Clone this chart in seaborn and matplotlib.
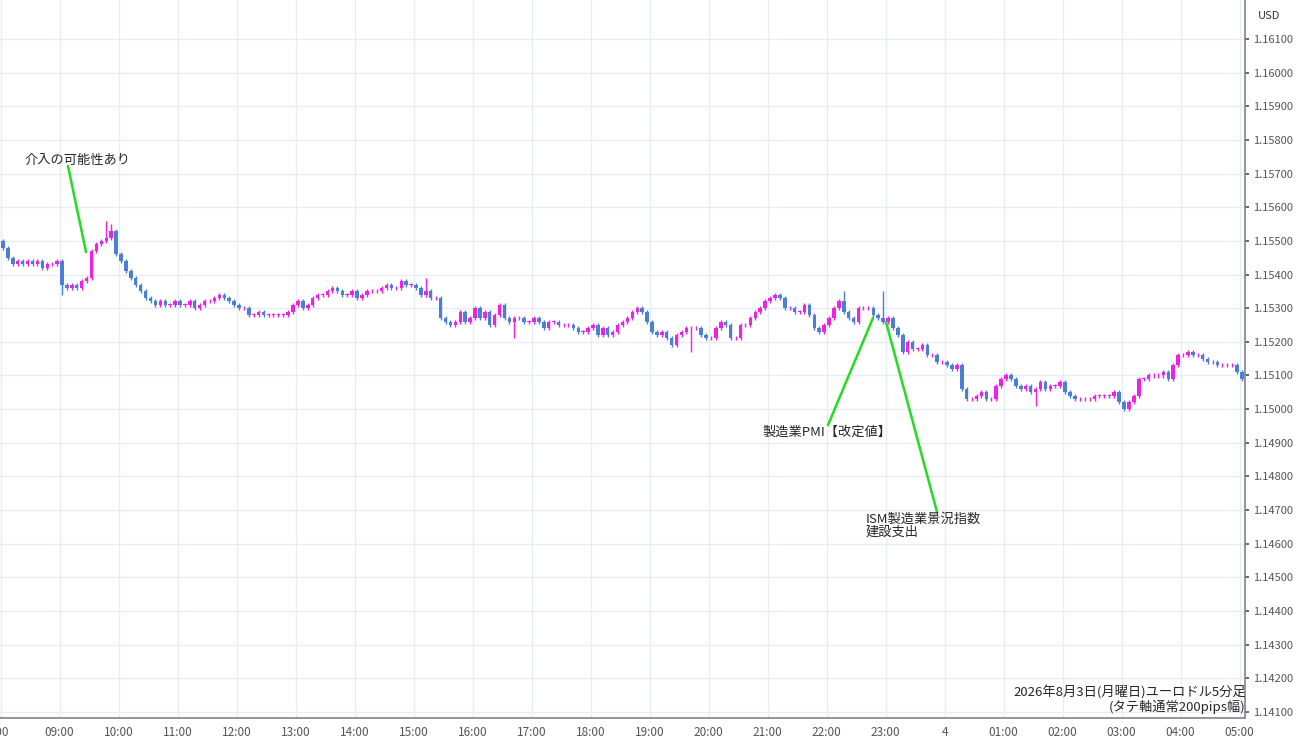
import matplotlib
matplotlib.use("Agg")
import matplotlib.pyplot as plt
import seaborn as sns
import numpy as np

sns.set_theme(style="white")
plt.rcParams['font.family'] = ['Noto Sans CJK JP', 'DejaVu Sans']

closes = [
 1.1548,1.1545,1.1543,1.1544,1.1543,1.1544,1.1543,1.1544,1.1542,1.1543,1.1543,1.1544,
 1.1537,1.1536,1.1537,1.1536,1.1538,1.1539,1.1547,1.1549,1.1550,1.1551,1.1553,1.1546,
 1.1544,1.1541,1.1539,1.1537,1.1535,1.1533,1.1532,1.1531,1.1532,1.1531,1.1531,1.1532,
 1.1531,1.1531,1.1532,1.1530,1.1531,1.1532,1.1532,1.1533,1.1534,1.1533,1.1532,1.1531,
 1.1530,1.1530,1.1528,1.1528,1.1529,1.1528,1.1528,1.1528,1.1528,1.1528,1.1529,1.1531,
 1.1532,1.1530,1.1531,1.1533,1.1534,1.1534,1.1535,1.1536,1.1535,1.1534,1.1534,1.1535,
 1.1533,1.1534,1.1535,1.1535,1.1535,1.1536,1.1537,1.1536,1.1536,1.1538,1.1537,1.1537,
 1.1536,1.1534,1.1535,1.1533,1.1533,1.1527,1.1526,1.1525,1.1526,1.1529,1.1526,1.1527,
 1.1530,1.1527,1.1529,1.1525,1.1528,1.1531,1.1527,1.1526,1.1527,1.1527,1.1526,1.1526,
 1.1527,1.1526,1.1524,1.1526,1.1526,1.1525,1.1525,1.1525,1.1524,1.1523,1.1523,1.1524,
 1.1525,1.1522,1.1524,1.1522,1.1523,1.1525,1.1526,1.1527,1.1529,1.1530,1.1529,1.1526,
 1.1523,1.1522,1.1523,1.1521,1.1519,1.1522,1.1523,1.1524,1.1524,1.1524,1.1522,1.1521,
 1.1521,1.1524,1.1526,1.1525,1.1521,1.1521,1.1525,1.1525,1.1527,1.1529,1.1530,1.1532,
 1.1533,1.1534,1.1533,1.1530,1.1530,1.1529,1.1529,1.1531,1.1528,1.1524,1.1523,1.1525,
 1.1527,1.1530,1.1532,1.1529,1.1527,1.1526,1.1530,1.1530,1.1530,1.1528,1.1527,1.1526,
 1.1527,1.1524,1.1522,1.1517,1.1520,1.1518,1.1518,1.1519,1.1516,1.1516,1.1514,1.1514,
 1.1513,1.1512,1.1513,1.1506,1.1503,1.1503,1.1504,1.1505,1.1503,1.1503,1.1507,1.1509,
 1.1510,1.1509,1.1507,1.1506,1.1507,1.1505,1.1506,1.1508,1.1506,1.1507,1.1507,1.1508,
 1.1505,1.1504,1.1503,1.1503,1.1503,1.1503,1.1504,1.1504,1.1504,1.1504,1.1505,1.1502,
 1.1500,1.1502,1.1504,1.1509,1.1509,1.1510,1.1510,1.1510,1.1511,1.1509,1.1513,1.1516,
 1.1516,1.1517,1.1516,1.1516,1.1515,1.1514,1.1514,1.1513,1.1513,1.1513,1.1513,1.1511,
 1.1509,
]
first_open = 1.1550
wick = 0.00006
spikes_high = {21: 1.1556, 22: 1.1555, 171: 1.1535, 179: 1.1535, 86: 1.1539}
spikes_low = {12: 1.1534, 104: 1.1521, 140: 1.1517, 210: 1.1501}
hour_labels = [":00","09:00","10:00","11:00","12:00","13:00","14:00","15:00","16:00","17:00",
               "18:00","19:00","20:00","21:00","22:00","23:00","4","01:00","02:00","03:00",
               "04:00","05:00"]
yticks = np.round(np.arange(1.141, 1.1611, 0.001), 3)

c = np.array(closes)
o = np.concatenate([[first_open], c[:-1]])
hi = np.maximum(o, c) + wick
lo = np.minimum(o, c) - wick
for k, v in spikes_high.items(): hi[k] = max(hi[k], v)
for k, v in spikes_low.items(): lo[k] = min(lo[k], v)
idx = np.arange(len(c))
up = c >= o
UP, DN = "#f020e8", "#4a7fd8"
cols = np.where(up, UP, DN)

fig = plt.figure(figsize=(13, 7.45), dpi=100)
ax = fig.add_axes([0, 27/745, 1245/1300, 718/745])
ax.vlines(idx, lo, hi, colors=cols, linewidth=1)
body = np.maximum(np.abs(c - o), 0.000015)
ax.bar(idx, body, bottom=np.minimum(o, c), width=0.7, color=cols, linewidth=0)

ax.set_xlim(-0.61, 252.6)
ax.set_ylim(1.14082, 1.16216)
ax.set_xticks(np.arange(len(hour_labels)) * 12 - 0.5)
ax.set_xticklabels(hour_labels, fontsize=8.5, color="#333333")
ax.set_yticks(yticks)
ax.set_yticklabels([f"{v:.5f}" for v in yticks], fontsize=8, color="#333333")
ax.grid(True, color="#e6edf3", linewidth=1)
ax.yaxis.tick_right()
ax.tick_params(axis="both", length=3, pad=3, colors="#555555")
for s in ["top", "left"]:
    ax.spines[s].set_visible(False)
ax.spines["right"].set_color("#888888")
ax.spines["bottom"].set_color("#888888")
ax.set_axisbelow(True)

fig.text(1258/1300, 1 - 16/745, "USD", fontsize=8, va="center", color="#333333")

def px(x, y):
    return ax.transData.inverted().transform(fig.transFigure.transform((x/1300, 1 - y/745)))

def line(p1, p2):
    a, b = px(*p1), px(*p2)
    ax.plot([a[0], b[0]], [a[1], b[1]], color="#22dd22", linewidth=1.8, clip_on=False)

line((68, 166), (86, 252))
line((828, 425), (873, 318))
line((937, 512), (886, 322))
fig.text(24/1300, 1 - 160/745, "介入の可能性あり", fontsize=9.5, va="center")
fig.text(762/1300, 1 - 432/745, "製造業PMI【改定値】", fontsize=9.5, va="center")
fig.text(866/1300, 1 - 526/745, "ISM製造業景況指数\n建設支出", fontsize=9.5, va="center", linespacing=1.0)
fig.text(1246/1300, 1 - 700/745, "2026年8月3日(月曜日)ユーロドル5分足\n(タテ軸通常200pips幅)",
         fontsize=9.5, va="center", ha="right", linespacing=1.0)
fig.savefig("out.png", dpi=100)
